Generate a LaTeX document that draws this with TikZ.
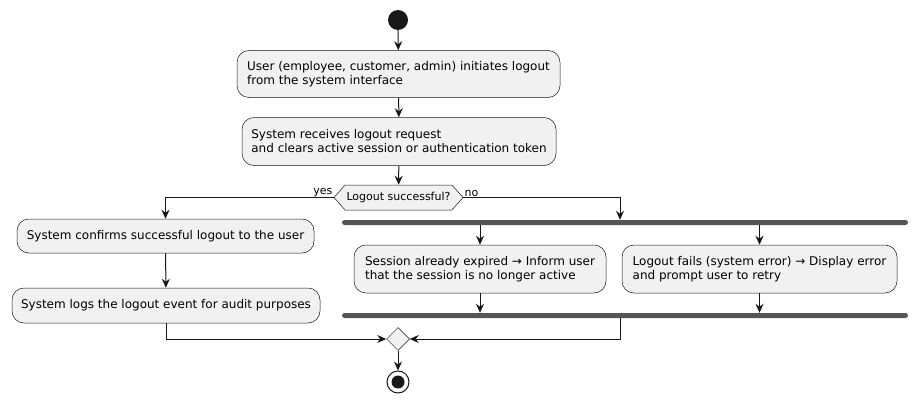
\documentclass[tikz,border=0pt]{standalone}
\usepackage{fontspec}
\setmainfont{DejaVu Sans}
\usetikzlibrary{arrows.meta,shapes.symbols,shapes.geometric}
\definecolor{boxfill}{HTML}{F1F1F1}
\definecolor{ink}{HTML}{181818}
\definecolor{barfill}{HTML}{555555}
\tikzset{
  act/.style={draw=ink,fill=boxfill,rounded corners=12pt,line width=0.5pt,
    align=left,inner sep=0pt,font=\fontsize{12}{14}\selectfont},
  flow/.style={draw=ink,line width=1pt,-{Stealth[length=9pt,width=8pt,inset=3pt]}},
  syncbar/.style={fill=barfill,rounded corners=2.5pt,minimum width=566pt,
    minimum height=5pt,inner sep=0pt},
  lbl/.style={inner sep=1pt,font=\fontsize{11}{12}\selectfont}
}
\begin{document}
\begin{tikzpicture}[x=1pt,y=-1pt]
  \useasboundingbox (0,0) rectangle (918,404);
  \node[circle,fill=ink,minimum size=20pt,inner sep=0pt](start) at (398,20){};
  \node[act,minimum width=323pt,minimum height=47pt](b1) at (398.5,74)
    {User (employee, customer, admin) initiates logout\\from the system interface};
  \node[act,minimum width=314pt,minimum height=48pt](b2) at (399,141.5)
    {System receives logout request\\and clears active session or authentication token};
  \node[signal,signal to=east and west,signal pointer angle=97,draw=ink,fill=boxfill,
    line width=0.5pt,minimum height=25pt,minimum width=129pt,inner sep=0pt,
    font=\fontsize{11}{12}\selectfont](dec) at (398.5,197.5){Logout successful?};
  \node[lbl,anchor=south east](yes) at (dec.west){yes};
  \node[lbl,anchor=south west](no) at (dec.east){no};
  % yes branch
  \node[act,minimum width=297pt,minimum height=34pt](b3) at (165.5,236)
    {System confirms successful logout to the user};
  \node[act,minimum width=308pt,minimum height=35pt](b4) at (166,305.5)
    {System logs the logout event for audit purposes};
  % no branch
  \node[syncbar](fork) at (625,222.5){};
  \node[act,minimum width=252pt,minimum height=48pt](b5) at (480,269)
    {Session already expired → Inform user\\that the session is no longer active};
  \node[act,minimum width=275pt,minimum height=48pt](b6) at (759.5,269)
    {Logout fails (system error) → Display error\\and prompt user to retry};
  \node[syncbar](join) at (625,315.5){};
  \node[diamond,draw=ink,fill=boxfill,line width=0.5pt,minimum size=23pt,inner sep=0pt](merge) at (398,339){};
  \node[circle,draw=ink,fill=white,line width=1pt,minimum size=22pt,inner sep=0pt](stop) at (398,382){};
  \fill[ink] (stop.center) circle (6.5pt);

  \draw[flow] (start) -- (b1);
  \draw[flow] (b1) -- (b2);
  \draw[flow] (b2) -- (dec);
  \draw[flow] (dec.west) -| (b3.north);
  \draw[flow] (b3) -- (b4);
  \draw[flow] (dec.east) -| ([xshift=-5pt]fork.north);
  \foreach \b in {b5,b6}{
    \draw[flow] (\b.north |- fork.south) -- (\b.north);
    \draw[flow] (\b.south) -- (\b.south |- join.north);
  }
  \draw[flow] (b4.south) |- (merge.west);
  \draw[flow] ([xshift=-5pt]join.south) |- (merge.east);
  \draw[flow] (merge) -- (stop);
\end{tikzpicture}
\end{document}
